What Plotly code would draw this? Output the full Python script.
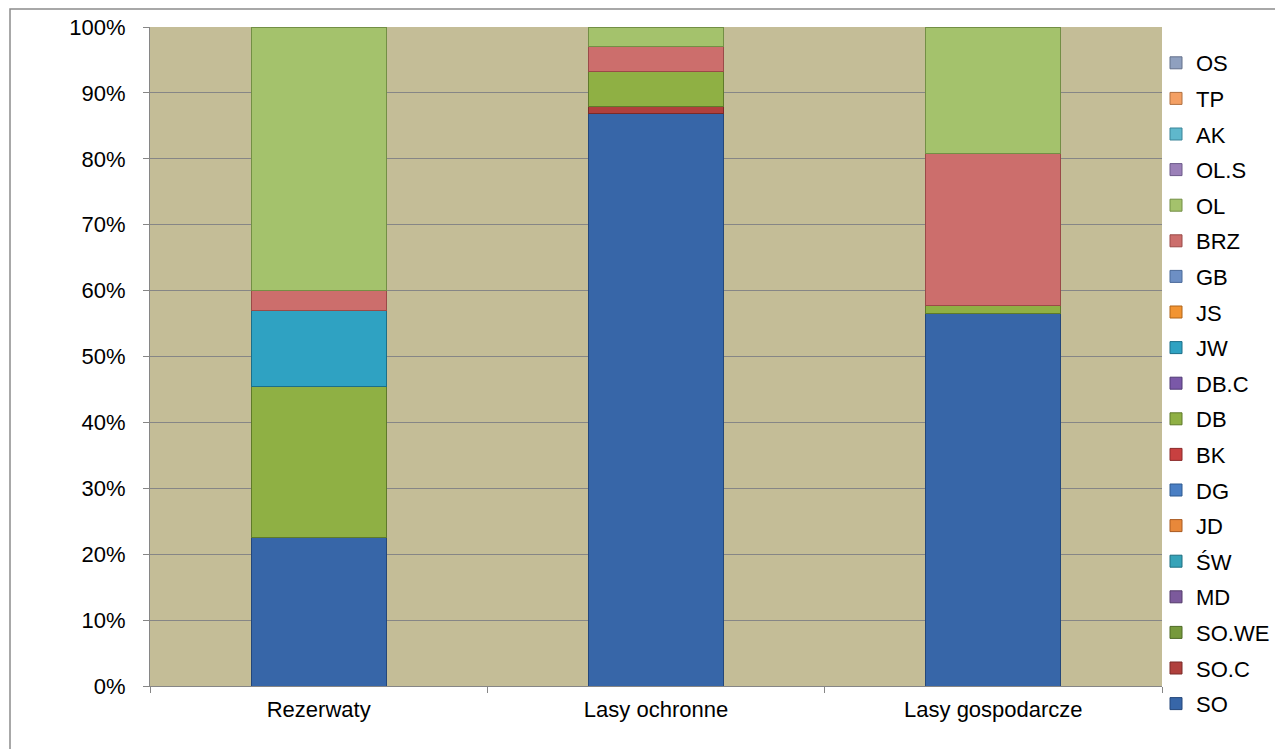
import plotly.graph_objects as go

categories = ["Rezerwaty", "Lasy ochronne", "Lasy gospodarcze"]

# series listed bottom-to-top in stack order
series_names = ["SO", "SO.C", "SO.WE", "MD", "ŚW", "JD", "DG", "BK", "DB", "DB.C",
                "JW", "JS", "GB", "BRZ", "OL", "OL.S", "AK", "TP", "OS"]

SO    = [22.5, 86.9, 56.5]
SO_C  = [0.0, 1.0, 0.0]
SO_WE = [0.0, 0.0, 0.0]
MD    = [0.0, 0.0, 0.0]
SW    = [0.0, 0.0, 0.0]
JD    = [0.0, 0.0, 0.0]
DG    = [0.0, 0.0, 0.0]
BK    = [0.0, 0.0, 0.0]
DB    = [23.0, 5.4, 1.3]
DB_C  = [0.0, 0.0, 0.0]
JW    = [11.5, 0.0, 0.0]
JS    = [0.0, 0.0, 0.0]
GB    = [0.0, 0.0, 0.0]
BRZ   = [3.0, 3.8, 23.0]
OL    = [40.0, 2.9, 19.2]
OL_S  = [0.0, 0.0, 0.0]
AK    = [0.0, 0.0, 0.0]
TP    = [0.0, 0.0, 0.0]
OS    = [0.0, 0.0, 0.0]

series_values = [SO, SO_C, SO_WE, MD, SW, JD, DG, BK, DB, DB_C,
                 JW, JS, GB, BRZ, OL, OL_S, AK, TP, OS]

colors = ["#3766a8", "#b0403d", "#76993c", "#7c5a9c", "#36a3b8", "#e8883a", "#4a7fc4",
          "#c84040", "#8fb044", "#7a58a8", "#2fa2c2", "#f29432", "#6d8fc4", "#cc6e6c",
          "#a4c26c", "#9b80b8", "#5fb8cc", "#f4a064", "#8fa0bf"]
edges = ["#24477a", "#7a2a28", "#4e6a25", "#553c6c", "#1f6f80", "#a85a20", "#2f5a90",
         "#8a2a2a", "#5f7a2a", "#503a75", "#1c6f88", "#b06418", "#4a6a9a", "#9a4a48",
         "#738f45", "#6d5a8a", "#3a8498", "#b07040", "#63708a"]

FONT = "Liberation Sans"

# the page body adds an 8px offset; figure is sized so the plot area lands at x 150..1162, y 27..686
W, H = 1275, 741
L, T = 142, 19
PW, PH = 1012, 659
R, B = W - L - PW, H - T - PH

fig = go.Figure()
n = len(series_names)
for i, (name, vals, c, e) in enumerate(zip(series_names, series_values, colors, edges)):
    fig.add_trace(go.Bar(
        x=categories,
        y=[v if v > 0 else None for v in vals],
        name=name,
        legendgroup=name,
        legendrank=100 + (n - i),
        marker=dict(color=c, line=dict(color=e, width=1)),
    ))

fig.update_layout(
    width=W, height=H,
    barmode="stack",
    bargap=0.6,
    paper_bgcolor="white",
    plot_bgcolor="#c4bd97",
    margin=dict(l=L, r=R, t=T, b=B, autoexpand=False),
    font=dict(family=FONT, size=22, color="black"),
    legend=dict(
        traceorder="grouped",
        tracegroupgap=4,
        x=(1156 - 150) / PW, xanchor="left",
        y=(686 - 42) / PH, yanchor="top",
        maxheight=735,
        font=dict(family=FONT, size=22, color="black"),
        itemwidth=30,
        bgcolor="rgba(0,0,0,0)",
    ),
    xaxis=dict(
        type="category",
        tickson="boundaries",
        ticks="outside", ticklen=6, tickcolor="#868686",
        showline=True, linecolor="#868686", linewidth=1,
        showgrid=False,
        tickfont=dict(family=FONT, size=22),
        ticklabelstandoff=4,
    ),
    yaxis=dict(
        range=[0, 100],
        dtick=10,
        ticksuffix="%",
        ticks="outside", ticklen=6, tickcolor="#868686",
        showline=True, linecolor="#868686", linewidth=1,
        showgrid=True, gridcolor="#868686", gridwidth=1,
        tickfont=dict(family=FONT, size=22),
        ticklabelstandoff=13,
        zeroline=False,
    ),
    shapes=[dict(
        type="rect", xref="paper", yref="paper",
        x0=(10 - 150) / PW, x1=(1300 - 150) / PW,
        y0=(686 - 770) / PH, y1=(686 - 9) / PH,
        line=dict(color="#8c8c8c", width=1.5), fillcolor="rgba(0,0,0,0)", layer="below",
    )],
)

fig.write_html("out.html")
